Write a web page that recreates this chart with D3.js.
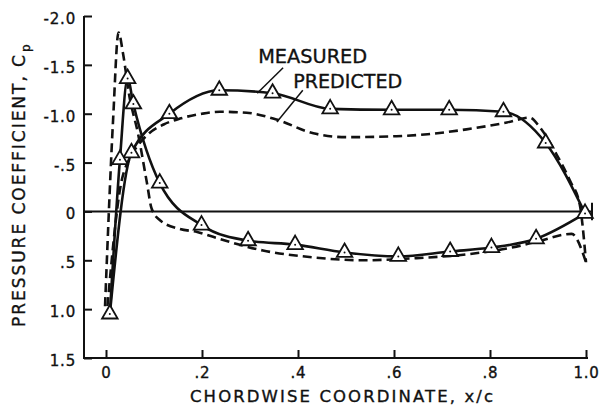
<!DOCTYPE html>
<html>
<head>
<meta charset="utf-8">
<script src="https://cdn.jsdelivr.net/npm/d3@7"></script>
<style>
  html, body { margin: 0; padding: 0; background: #fff; }
  svg { display: block; }
  text { font-family: "DejaVu Sans", sans-serif; fill: #111; stroke: #111; stroke-width: 0.35px; }
</style>
</head>
<body>
<svg id="chart" width="608" height="408"></svg>
<script>
// ---------- data ----------
const xTicks = [0, 0.2, 0.4, 0.6, 0.8, 1.0];
const xTickLabels = ["0", ".2", ".4", ".6", ".8", "1.0"];
const yTicks = [-2, -1.5, -1, -0.5, 0, 0.5, 1.0, 1.5];
const yTickLabels = ["-2.0", "-1.5", "-1.0", "-.5", "0", ".5", "1.0", "1.5"];

// measured, plateau surface
const measAX  = [0.008, 0.053, 0.132, 0.236, 0.347, 0.467, 0.595, 0.715, 0.828, 0.916, 0.998];
const measACp = [1.05, -0.60, -1.00, -1.24, -1.21, -1.05, -1.04, -1.04, -1.02, -0.70, 0.02];
// measured, leading-edge-peak surface
const measBX  = [0.008, 0.029, 0.045, 0.057, 0.112, 0.199, 0.296, 0.394, 0.497, 0.609, 0.717, 0.803, 0.896, 0.998];
const measBCp = [1.05, -0.53, -1.36, -1.10, -0.29, 0.14, 0.30, 0.34, 0.42, 0.46, 0.41, 0.37, 0.28, 0.02];

// predicted, plateau surface
const predAX  = [0.003, 0.03, 0.05, 0.067, 0.09, 0.12, 0.154, 0.20, 0.2375, 0.293, 0.355, 0.432, 0.501, 0.605, 0.67, 0.751, 0.835, 0.883, 0.904, 0.939, 0.967, 0.987, 1.0];
const predACp = [0.97, -0.25, -0.55, -0.68, -0.80, -0.89, -0.95, -1.00, -1.02, -1.01, -0.94, -0.80, -0.76, -0.77, -0.79, -0.84, -0.91, -0.96, -0.86, -0.58, -0.31, -0.07, 0.52];
// predicted, leading-edge-peak surface
const predBX  = [-0.002, 0.015, 0.026, 0.036, 0.048, 0.067, 0.085, 0.095, 0.1125, 0.154, 0.19, 0.223, 0.327, 0.431, 0.535, 0.64, 0.75, 0.855, 0.904, 0.97, 1.0];
const predBCp = [0.97, -0.96, -1.83, -1.60, -1.20, -0.79, -0.30, -0.03, 0.09, 0.18, 0.21, 0.26, 0.40, 0.47, 0.50, 0.48, 0.44, 0.36, 0.30, 0.23, 0.52];

// annotations: label text, label anchor (x, Cp), leader from/to (x, Cp)
const annLabels = ["MEASURED", "PREDICTED"];
const annTextX  = [0.317, 0.390];
const annTextCp = [-1.515, -1.265];
const annFromX  = [0.369, 0.410];
const annFromCp = [-1.47, -1.24];
const annToX    = [0.315, 0.356];
const annToCp   = [-1.21, -0.915];

// ---------- drawing ----------
const svg = d3.select("#chart");
const ink = "#111";

const x = d3.scaleLinear().domain([0, 1]).range([106, 586]);
const y = d3.scaleLinear().domain([-2, 1.5]).range([16, 358]);

const axisLeftX = 84;
const axisRightX = 588;

// frame (left axis line + bottom axis line)
svg.append("path")
  .attr("d", `M${axisLeftX},${y(-2)}V${y(1.5)}H${axisRightX}`)
  .attr("fill", "none").attr("stroke", ink).attr("stroke-width", 2);

// y axis ticks (inward) and labels
const yAxis = d3.axisLeft(y).tickValues(yTicks)
  .tickFormat((d, i) => yTickLabels[i]).tickSize(-8).tickSizeOuter(0).tickPadding(8);
const gy = svg.append("g").attr("transform", `translate(${axisLeftX},0)`).call(yAxis);
gy.select(".domain").remove();
gy.selectAll(".tick line").attr("stroke", ink).attr("stroke-width", 2);
gy.selectAll(".tick text").attr("font-size", 15).attr("dy", "0.5em")
  .attr("font-family", "DejaVu Sans").attr("fill", ink).attr("letter-spacing", 0.8);

// x axis ticks (inward) and labels
const xAxis = d3.axisBottom(x).tickValues(xTicks)
  .tickFormat((d, i) => xTickLabels[i]).tickSize(-8).tickSizeOuter(0).tickPadding(9);
const gx = svg.append("g").attr("transform", `translate(0,${y(1.5)})`).call(xAxis);
gx.select(".domain").remove();
gx.selectAll(".tick line").attr("stroke", ink).attr("stroke-width", 2);
gx.selectAll(".tick text").attr("font-size", 15)
  .attr("font-family", "DejaVu Sans").attr("fill", ink).attr("letter-spacing", 0.8);

// zero reference line with end bar
svg.append("line")
  .attr("x1", axisLeftX).attr("x2", x(1.0125))
  .attr("y1", y(0)).attr("y2", y(0))
  .attr("stroke", ink).attr("stroke-width", 2);
svg.append("line")
  .attr("x1", x(1.0125)).attr("x2", x(1.0125))
  .attr("y1", y(-0.09)).attr("y2", y(0.09))
  .attr("stroke", ink).attr("stroke-width", 2);

// axis titles
svg.append("text")
  .attr("x", 190).attr("y", 402)
  .attr("font-size", 16.5)
  .attr("textLength", 303).attr("lengthAdjust", "spacing")
  .text("CHORDWISE COORDINATE, x/c");

svg.append("text")
  .attr("transform", "translate(24.5,327) rotate(-90)")
  .attr("font-size", 17)
  .attr("textLength", 272).attr("lengthAdjust", "spacing")
  .text("PRESSURE COEFFICIENT, C");
svg.append("text")
  .attr("transform", "translate(29.5,52) rotate(-90)")
  .attr("font-size", 12)
  .text("p");

// curves
const line = d3.line().x(d => x(d[0])).y(d => y(d[1])).curve(d3.curveMonotoneX);
const zip = (xs, ys) => xs.map((v, i) => [v, ys[i]]);

const predA = zip(predAX, predACp);
const predB = zip(predBX, predBCp);
const measA = zip(measAX, measACp);
const measB = zip(measBX, measBCp);

[predA, predB].forEach(data => {
  svg.append("path").attr("d", line(data))
    .attr("fill", "none").attr("stroke", ink).attr("stroke-width", 2.6)
    .attr("stroke-dasharray", "9,5");
});
[measA, measB].forEach(data => {
  svg.append("path").attr("d", line(data))
    .attr("fill", "none").attr("stroke", ink).attr("stroke-width", 2.6);
});

// measured triangles
const tri = d3.symbol(d3.symbolTriangle, 105);
const pts = measA.concat(measB.slice(1, -1));
const gp = svg.append("g");
gp.selectAll("path").data(pts).join("path")
  .attr("d", tri)
  .attr("transform", d => `translate(${x(d[0])},${y(d[1])})`)
  .attr("fill", "#fff").attr("stroke", ink).attr("stroke-width", 1.8);
gp.selectAll("circle").data(pts).join("circle")
  .attr("cx", d => x(d[0])).attr("cy", d => y(d[1])).attr("r", 1)
  .attr("fill", ink);

// annotations
annLabels.forEach((lab, i) => {
  svg.append("text")
    .attr("x", x(annTextX[i])).attr("y", y(annTextCp[i]))
    .attr("font-size", 19)
    .attr("textLength", 109).attr("lengthAdjust", "spacingAndGlyphs")
    .text(lab);
  svg.append("line")
    .attr("x1", x(annFromX[i])).attr("y1", y(annFromCp[i]))
    .attr("x2", x(annToX[i])).attr("y2", y(annToCp[i]))
    .attr("stroke", ink).attr("stroke-width", 1.5);
});
</script>
</body>
</html>
